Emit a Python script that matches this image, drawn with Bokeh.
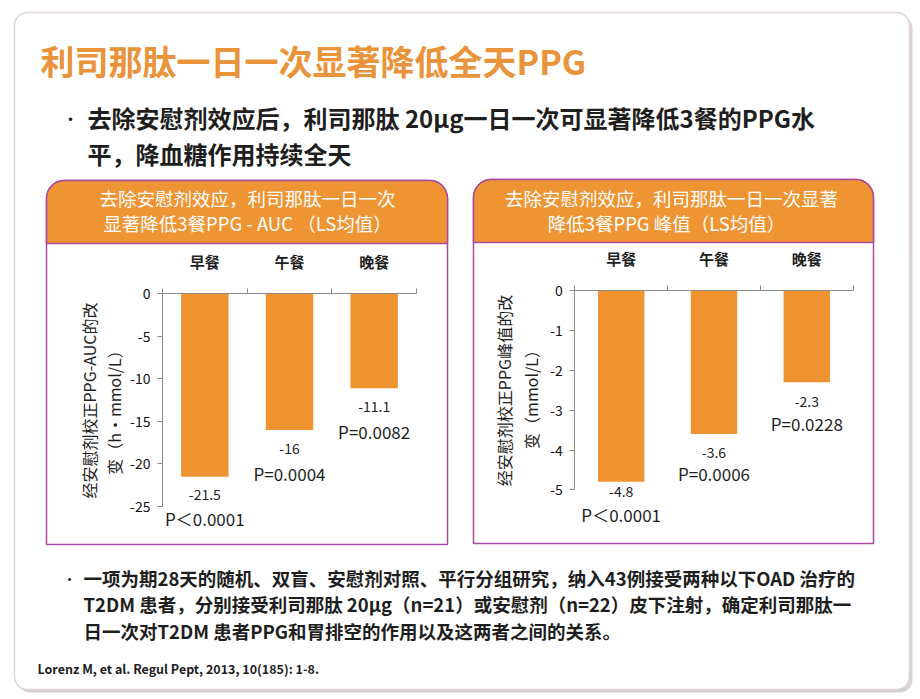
import numpy as np
from bokeh.plotting import figure
from bokeh.models import Range1d, LinearAxis, FixedTicker, BoxAnnotation, Label
from bokeh.core.properties import value
from bokeh.embed import file_html
from bokeh.resources import INLINE

# ---------------- data ----------------
meals = ["早餐", "午餐", "晚餐"]
auc_change = [-21.5, -16.0, -11.1]
auc_p = ["P＜0.0001", "P=0.0004", "P=0.0082"]
auc_ticks = [0, -5, -10, -15, -20, -25]
peak_change = [-4.8, -3.6, -2.3]
peak_p = ["P＜0.0001", "P=0.0006", "P=0.0228"]
peak_ticks = [0, -1, -2, -3, -4, -5]

title_text = "利司那肽一日一次显著降低全天PPG"
bullet1 = ["去除安慰剂效应后，利司那肽 20μg一日一次可显著降低3餐的PPG水",
           "平，降血糖作用持续全天"]
panel1_head = ["去除安慰剂效应，利司那肽一日一次", "显著降低3餐PPG - AUC （LS均值）"]
panel2_head = ["去除安慰剂效应，利司那肽一日一次显著", "降低3餐PPG 峰值（LS均值）"]
panel1_ylab = ["经安慰剂校正PPG-AUC的改", "变（h・mmol/L）"]
panel2_ylab = ["经安慰剂校正PPG峰值的改", "变（mmol/L）"]
bullet2 = ["一项为期28天的随机、双盲、安慰剂对照、平行分组研究，纳入43例接受两种以下OAD 治疗的",
           "T2DM 患者，分别接受利司那肽 20μg（n=21）或安慰剂（n=22）皮下注射，确定利司那肽一",
           "日一次对T2DM 患者PPG和胃排空的作用以及这两者之间的关系。"]
citation = "Lorenz M, et al. Regul Pept, 2013, 10(185): 1-8."

# ---------------- style ----------------
W, H = 920, 699
CJK = "Noto Sans CJK SC"
ORANGE_T = "#E9933A"
BAR = "#EE9330"
HEAD = "#EE9433"
PURPLE = "#A94A9F"
AX = "#8a8a8a"
TXT = "#1e1e1e"


def X(xr):
    return xr


def Y(yr):
    return H - yr


def lin_range(pix_a, val_a, pix_b, val_b, total):
    scale = (val_b - val_a) / (pix_b - pix_a)
    start = val_a - pix_a * scale
    return Range1d(start=start, end=start + total * scale)


p = figure(width=W, height=H, x_range=Range1d(0, W), y_range=Range1d(0, H),
           output_backend="svg", toolbar_location=None, min_border=0,
           x_axis_type=None, y_axis_type=None)
p.outline_line_color = None
p.background_fill_color = "white"
p.border_fill_color = "white"

# ---------------- card & panels ----------------
def box(l, r, t, b, **kw):
    ba = BoxAnnotation(left=X(l), right=X(r), top=Y(t), bottom=Y(b), level="underlay", **kw)
    p.add_layout(ba)

box(17, 912, 15, 692, border_radius=13, fill_color="#b5adb0", fill_alpha=0.55, line_color=None)
box(14, 909, 12, 689, border_radius=13, fill_color="white", fill_alpha=1.0,
    line_color="#e0d3d6", line_alpha=1.0, line_width=1.5)

for (l, r, t, hb, b) in [(46, 447, 180, 243, 544), (473, 873, 179, 242, 543)]:
    box(l, r, t, b, border_radius=(18, 18, 0, 0), fill_color="white", fill_alpha=1.0,
        line_color=PURPLE, line_alpha=1.0, line_width=1.5)
    box(l, r, t, hb, border_radius=(18, 18, 0, 0), fill_color=HEAD, fill_alpha=1.0,
        line_color=PURPLE, line_alpha=1.0, line_width=1.5)


def label(x, y, text, size, color=TXT, align="left", style="normal", font=CJK, angle=0.0):
    p.add_layout(Label(x=X(x), y=Y(y), text=text, text_font=font, text_font_size=size,
                       text_color=color, text_align=align, text_baseline="middle",
                       text_font_style=style, angle=angle))

# ---------------- texts ----------------
label(40, 60, title_text, "34px", color=ORANGE_T, style="bold")
label(62, 117, "•", "16px")
label(87, 117, bullet1[0], "24px", style="bold")
label(87, 153, bullet1[1], "24px", style="bold")

label(247, 197, panel1_head[0], "18.5px", color="white", align="center")
label(247, 222, panel1_head[1], "18.5px", color="white", align="center")
label(671, 197, panel2_head[0], "18.5px", color="white", align="center")
label(666, 222, panel2_head[1], "18.5px", color="white", align="center")

label(88, 400, panel1_ylab[0], "16px", align="center", angle=np.pi / 2)
label(113, 408, panel1_ylab[1], "16px", align="center", angle=np.pi / 2)
label(503, 390, panel2_ylab[0], "16px", align="center", angle=np.pi / 2)
label(530, 395, panel2_ylab[1], "16px", align="center", angle=np.pi / 2)

label(62, 577, "•", "14px")
for i, line in enumerate(bullet2):
    label(83, 577 + i * 26.5, line, "18.5px", style="bold")
label(37, 668, citation, "12.5px", style="bold", font="Liberation Sans Narrow, " + CJK)

# ---------------- bar charts ----------------
p.extra_x_ranges = {
    "x1": lin_range(X(162), 0, X(416), len(meals), W),
    "x2": lin_range(X(574.3), 0, X(852.7), len(meals), W),
}
p.extra_y_ranges = {
    "y1": lin_range(Y(293.3), 0, Y(506), min(auc_ticks), H),
    "y2": lin_range(Y(290.3), 0, Y(489.3), min(peak_ticks), H),
}


def chart(xr, yr, cats, vals, pvals, ticks, bar_w, voff, poff):
    centers = [i + 0.5 for i in range(len(cats))]
    yax = LinearAxis(x_range_name=xr, y_range_name=yr, fixed_location=0,
                     bounds=(min(ticks), max(ticks)),
                     ticker=FixedTicker(ticks=ticks, minor_ticks=[]),
                     major_label_overrides={t: f"{t:g}" for t in ticks})
    yax.major_tick_out = 5
    yax.major_tick_in = 0
    yax.minor_tick_out = 0
    yax.minor_tick_in = 0
    yax.axis_line_color = AX
    yax.major_tick_line_color = AX
    yax.major_label_text_font = CJK
    yax.major_label_text_font_size = "14px"
    yax.major_label_text_color = "#111111"
    yax.major_label_standoff = 7
    p.add_layout(yax, "left")

    xax = LinearAxis(x_range_name=xr, y_range_name=yr, fixed_location=0,
                     bounds=(0, len(cats)),
                     ticker=FixedTicker(ticks=centers, minor_ticks=list(range(len(cats) + 1))),
                     major_label_overrides={c: cat for c, cat in zip(centers, cats)})
    xax.major_tick_out = 0
    xax.major_tick_in = 0
    xax.minor_tick_out = 5
    xax.minor_tick_in = 0
    xax.axis_line_color = AX
    xax.minor_tick_line_color = AX
    xax.major_label_text_font = CJK
    xax.major_label_text_font_size = "15px"
    xax.major_label_text_font_style = "bold"
    xax.major_label_text_color = TXT
    xax.major_label_standoff = 17
    p.add_layout(xax, "above")

    p.vbar(x=centers, bottom=vals, top=0, width=bar_w, x_range_name=xr, y_range_name=yr,
           fill_color=BAR, line_color=None)
    p.text(x=centers, y=vals, text=[f"{v:g}" for v in vals], x_range_name=xr, y_range_name=yr,
           text_align="center", text_baseline="middle", y_offset=voff,
           text_font=value(CJK), text_font_size="14px", text_color=TXT)
    p.text(x=centers, y=vals, text=pvals, x_range_name=xr, y_range_name=yr,
           text_align="center", text_baseline="middle", y_offset=poff,
           text_font=value(CJK), text_font_size="17px", text_color=TXT)


chart("x1", "y1", meals, auc_change, auc_p, auc_ticks, 0.56, [18, 19, 18], [42, 44, 43])
chart("x2", "y2", meals, peak_change, peak_p, peak_ticks, 0.5, [10, 18, 19], [33, 39, 41])

open("out.html", "w").write(file_html(p, INLINE))
